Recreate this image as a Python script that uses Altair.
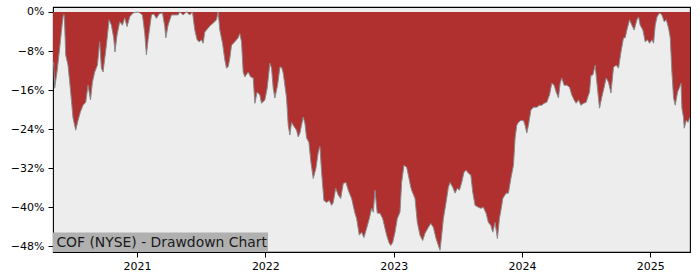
import altair as alt
import pandas as pd

# Decimal-year positions of the drawdown samples
years = [
    2020.345, 2020.350, 2020.358, 2020.376, 2020.397, 2020.410, 2020.423, 2020.431, 2020.436, 2020.444,
    2020.462, 2020.480, 2020.501, 2020.522, 2020.540, 2020.558, 2020.579, 2020.600, 2020.618, 2020.637,
    2020.652, 2020.670, 2020.691, 2020.709, 2020.722, 2020.735, 2020.761, 2020.782, 2020.800, 2020.818,
    2020.828, 2020.844, 2020.865, 2020.886, 2020.904, 2020.922, 2020.943, 2020.969, 2021.008, 2021.021,
    2021.042, 2021.060, 2021.073, 2021.086, 2021.112, 2021.130, 2021.151, 2021.172, 2021.198, 2021.216,
    2021.224, 2021.242, 2021.268, 2021.294, 2021.320, 2021.333, 2021.359, 2021.385, 2021.411, 2021.432,
    2021.450, 2021.468, 2021.484, 2021.502, 2021.515, 2021.528, 2021.554, 2021.573, 2021.593, 2021.619,
    2021.632, 2021.645, 2021.666, 2021.684, 2021.697, 2021.710, 2021.723, 2021.736, 2021.762, 2021.788,
    2021.801, 2021.814, 2021.827, 2021.840, 2021.866, 2021.885, 2021.905, 2021.918, 2021.936, 2021.957,
    2021.970, 2021.996, 2022.014, 2022.035, 2022.048, 2022.061, 2022.074, 2022.095, 2022.113, 2022.126,
    2022.139, 2022.165, 2022.178, 2022.191, 2022.204, 2022.217, 2022.243, 2022.256, 2022.269, 2022.295,
    2022.308, 2022.321, 2022.339, 2022.355, 2022.373, 2022.394, 2022.412, 2022.425, 2022.438, 2022.456,
    2022.477, 2022.498, 2022.516, 2022.529, 2022.548, 2022.568, 2022.587, 2022.607, 2022.628, 2022.646,
    2022.672, 2022.698, 2022.711, 2022.732, 2022.750, 2022.768, 2022.789, 2022.810, 2022.828, 2022.841,
    2022.854, 2022.872, 2022.893, 2022.914, 2022.932, 2022.945, 2022.963, 2022.977, 2022.992, 2023.010,
    2023.028, 2023.049, 2023.062, 2023.080, 2023.101, 2023.114, 2023.133, 2023.140, 2023.166, 2023.184,
    2023.205, 2023.226, 2023.244, 2023.270, 2023.289, 2023.309, 2023.330, 2023.348, 2023.361, 2023.374,
    2023.387, 2023.408, 2023.426, 2023.439, 2023.460, 2023.478, 2023.496, 2023.512, 2023.530, 2023.548,
    2023.564, 2023.582, 2023.601, 2023.616, 2023.634, 2023.660, 2023.679, 2023.699, 2023.720, 2023.738,
    2023.757, 2023.772, 2023.790, 2023.808, 2023.824, 2023.842, 2023.850, 2023.876, 2023.894, 2023.913,
    2023.933, 2023.946, 2023.959, 2023.972, 2023.991, 2024.011, 2024.024, 2024.037, 2024.050, 2024.069,
    2024.089, 2024.115, 2024.136, 2024.154, 2024.172, 2024.193, 2024.214, 2024.232, 2024.250, 2024.266,
    2024.284, 2024.297, 2024.310, 2024.328, 2024.349, 2024.370, 2024.388, 2024.406, 2024.422, 2024.440,
    2024.459, 2024.479, 2024.500, 2024.510, 2024.526, 2024.537, 2024.552, 2024.570, 2024.583, 2024.604,
    2024.622, 2024.635, 2024.656, 2024.674, 2024.693, 2024.713, 2024.734, 2024.752, 2024.771, 2024.791,
    2024.804, 2024.817, 2024.838, 2024.856, 2024.874, 2024.895, 2024.908, 2024.921, 2024.942, 2024.960,
    2024.978, 2024.994, 2025.012, 2025.025, 2025.038, 2025.052, 2025.072, 2025.090, 2025.108, 2025.124,
    2025.142, 2025.155, 2025.168, 2025.181, 2025.194, 2025.212, 2025.228, 2025.239, 2025.246, 2025.259,
    2025.264, 2025.280, 2025.293, 2025.309,
]

# Drawdown from running peak, in percent
drawdown = [
    -11.0, -10.3, -15.6, -12.3, -7.4, -4.1, -1.0, -0.5, -2.7, -8.8,
    -10.9, -15.6, -21.7, -24.2, -22.2, -20.5, -19.1, -18.5, -15.0, -18.0,
    -14.4, -12.3, -10.9, -6.1, -11.5, -12.3, -6.8, -1.6, -2.7, -5.3,
    -8.2, -4.7, -2.0, -2.7, -1.2, -3.0, -1.0, -0.2, 0.0, -0.2,
    -0.6, -4.4, -8.8, -5.7, -0.6, -0.4, -1.3, -0.4, -0.2, -3.0,
    -5.3, -2.7, -0.6, -0.6, -0.6, 0.0, -0.6, 0.0, -0.6, 0.0,
    -3.7, -5.7, -6.1, -5.7, -6.4, -4.1, -3.3, -2.7, -2.3, -1.6,
    0.0, -3.7, -6.4, -9.8, -11.5, -11.2, -9.5, -6.8, -6.1, -5.3,
    -4.4, -6.1, -12.3, -13.3, -12.3, -13.3, -13.5, -18.7, -16.4, -17.0,
    -18.7, -18.0, -15.6, -10.5, -11.5, -15.6, -17.6, -15.0, -11.3, -11.3,
    -12.5, -17.6, -23.2, -25.2, -22.6, -23.2, -24.2, -25.6, -24.8, -21.5,
    -22.8, -25.8, -26.7, -30.8, -34.1, -32.0, -28.7, -27.5, -32.8, -38.6,
    -39.0, -38.6, -39.6, -39.0, -36.1, -37.5, -38.2, -35.1, -34.9, -36.5,
    -38.2, -41.2, -42.3, -45.7, -45.1, -46.2, -44.3, -42.3, -40.2, -41.0,
    -36.5, -41.2, -41.2, -42.3, -44.3, -45.7, -47.2, -47.8, -47.2, -45.1,
    -42.3, -41.0, -34.9, -31.4, -31.8, -33.4, -35.9, -36.5, -38.2, -43.1,
    -45.7, -46.8, -45.3, -44.1, -43.3, -44.1, -46.4, -47.8, -48.8, -45.7,
    -42.3, -39.0, -35.9, -34.9, -35.9, -37.1, -36.1, -36.5, -34.9, -32.8,
    -32.4, -33.0, -33.4, -36.9, -39.6, -40.0, -40.2, -40.0, -41.2, -43.1,
    -43.7, -45.1, -43.1, -46.4, -42.3, -39.6, -38.2, -37.1, -37.1, -34.1,
    -31.4, -25.8, -23.2, -22.6, -22.2, -22.2, -23.2, -24.8, -23.2, -20.1,
    -19.5, -19.5, -19.1, -19.1, -18.7, -18.5, -17.0, -14.6, -15.0, -16.4,
    -17.6, -14.6, -13.5, -15.0, -15.0, -15.4, -17.0, -18.0, -18.7, -18.0,
    -19.1, -18.7, -18.5, -17.6, -16.4, -13.0, -12.9, -10.9, -14.4, -19.7,
    -17.4, -16.0, -13.5, -14.4, -16.6, -11.3, -10.9, -11.5, -8.2, -5.3,
    -5.3, -3.7, -1.6, -2.7, -3.7, -1.6, -1.0, -2.7, -3.7, -6.1,
    -5.7, -6.4, -5.7, -6.4, -2.7, -1.0, -0.2, -0.6, -2.0, -1.6,
    -3.3, -5.3, -12.3, -17.6, -19.1, -16.4, -15.4, -14.6, -19.7, -21.7,
    -23.8, -22.2, -22.6, -21.5,
]

year_ticks = [2021, 2022, 2023, 2024, 2025]
pct_ticks = [0, -8, -16, -24, -32, -40, -48]
title_text = "COF (NYSE) - Drawdown Chart"

df = pd.DataFrame({"year": years, "dd": drawdown})

W, H = 637, 245
FONT = "DejaVu Sans"

x_enc = alt.X(
    "year:Q",
    scale=alt.Scale(domain=[2020.345, 2025.309], nice=False, zero=False),
    axis=alt.Axis(values=year_ticks, format="d", title=None, grid=False,
                  domain=False, tickSize=5, tickColor="black", labelPadding=3,
                  labelFont=FONT, labelFontSize=11, labelColor="black"),
)
y_enc = alt.Y(
    "dd:Q",
    scale=alt.Scale(domain=[-49.15, 1.02], nice=False, zero=False),
    axis=alt.Axis(values=pct_ticks, title=None, grid=False, domain=False,
                  tickSize=5, tickColor="black", labelPadding=4,
                  labelFont=FONT, labelFontSize=11, labelColor="black",
                  labelExpr="datum.value == 0 ? '0%' : '\u2212' + abs(datum.value) + '%'"),
)

area = alt.Chart(df).mark_area(color="#b03030", opacity=1, clip=True).encode(
    x=x_enc, y=y_enc, y2=alt.datum(0)
)
line = alt.Chart(df).mark_line(color="#8a8a8a", strokeWidth=1, clip=True).encode(
    x="year:Q", y="dd:Q"
)

label_df = pd.DataFrame({"t": [title_text]})
box = alt.Chart(label_df).mark_rect(color="#b0b0b0", opacity=1).encode(
    x=alt.value(0), x2=alt.value(215), y=alt.value(225.5), y2=alt.value(H)
)
label = alt.Chart(label_df).mark_text(
    align="left", baseline="alphabetic", font=FONT, fontSize=13.9, color="#1a1a1a"
).encode(x=alt.value(3.4), y=alt.value(239.6), text="t:N")

chart = alt.layer(area, line, box, label).properties(
    width=W, height=H,
    autosize=alt.AutoSizeParams(type="none"),
    padding={"left": 53, "top": 7, "right": 10, "bottom": 28},
    background="white",
).configure_view(
    fill="#ededed", stroke="black", strokeWidth=1.1
)

chart.save("out.html", embed_options={"renderer": "svg", "actions": False})
